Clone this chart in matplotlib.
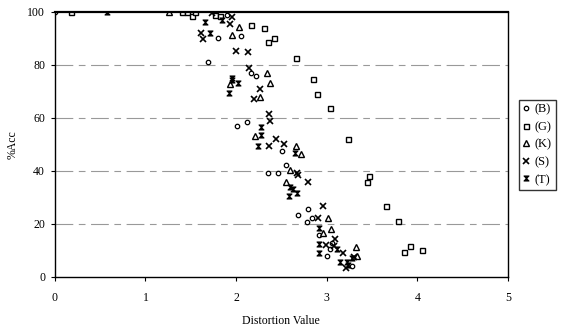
import matplotlib
matplotlib.use("Agg")
import matplotlib.pyplot as plt
from matplotlib.path import Path

plt.rcParams['font.family'] = ['Liberation Serif', 'DejaVu Serif']

# ---- data ----
b_x = [0.00, 1.90, 1.80, 1.69, 2.17, 2.22, 2.06, 2.01, 2.12, 2.51, 2.55, 2.35, 2.46,
       2.79, 2.68, 2.78, 2.84, 2.91, 3.04, 3.00, 3.28, 3.06]
b_y = [100.0, 98.9, 90.2, 81.1, 77.0, 75.8, 90.9, 57.0, 58.5, 47.5, 42.3, 39.2, 39.2,
       25.7, 23.4, 20.8, 22.3, 15.8, 10.6, 7.9, 4.2, 12.8]

g_x = [0.18, 1.40, 1.46, 1.51, 1.55, 1.77, 1.82, 2.17, 2.31, 2.35, 2.42, 2.66, 2.85,
       2.89, 3.04, 3.23, 3.47, 3.44, 3.65, 3.79, 3.92, 3.85, 4.05]
g_y = [100.0, 100.0, 100.0, 98.5, 100.0, 99.0, 98.5, 95.1, 94.0, 88.7, 90.2, 82.6, 74.7,
       69.1, 63.8, 52.1, 38.1, 35.8, 26.8, 21.1, 11.7, 9.4, 10.2]

k_x = [1.26, 2.03, 1.96, 2.34, 1.93, 2.38, 2.26, 2.21, 2.66, 2.72, 2.60, 2.55, 3.01,
       3.05, 2.96, 3.32, 3.34]
k_y = [100.0, 94.3, 91.3, 77.0, 72.8, 73.2, 67.9, 53.2, 49.4, 46.4, 40.4, 35.8, 22.3,
       18.1, 16.6, 11.3, 7.9]

s_x = [1.73, 1.95, 1.93, 1.61, 1.64, 2.00, 2.13, 2.14, 2.26, 2.20, 2.36, 2.38, 2.44,
       2.36, 2.53, 2.67, 2.68, 2.79, 2.96, 2.90, 3.09, 2.99, 3.08, 3.18, 3.21, 3.30]
s_y = [99.6, 98.1, 95.5, 92.1, 89.8, 85.3, 84.9, 78.9, 70.9, 67.2, 61.5, 58.9, 52.1,
       49.4, 50.2, 39.2, 38.5, 35.8, 26.8, 22.3, 14.3, 12.1, 11.7, 9.1, 3.4, 7.5]

t_x = [0.58, 1.66, 1.71, 1.85, 1.95, 1.95, 2.02, 1.92, 2.28, 2.28, 2.24, 2.65, 2.59,
       2.63, 2.67, 2.58, 2.92, 2.91, 3.11, 2.91, 3.15, 3.22, 3.23, 3.28]
t_y = [100.0, 96.2, 92.1, 97.0, 75.1, 74.3, 73.2, 69.4, 56.6, 53.6, 49.4, 46.8, 34.0,
       33.2, 31.7, 30.6, 18.5, 12.5, 10.6, 9.1, 5.7, 5.7, 4.5, 7.2]

labels = ['(B)', '(G)', '(K)', '(S)', '(T)']
x_ticks = [0, 1, 2, 3, 4, 5]
y_ticks = [0, 20, 40, 60, 80, 100]

# hourglass marker for (T)
hourglass = Path([(-1, 1), (1, 1), (-1, -1), (1, -1), (-1, 1)],
                 [Path.MOVETO, Path.LINETO, Path.LINETO, Path.LINETO, Path.CLOSEPOLY])

fig = plt.figure(figsize=(5.65, 3.32), dpi=100)
ax = fig.add_axes([0.097, 0.166, 0.802, 0.798])

kw = dict(linestyle='none', color='black')
ax.plot(b_x, b_y, marker='o', ms=3.2, mfc='white', mew=0.9, label=labels[0], **kw)
ax.plot(g_x, g_y, marker='s', ms=3.6, mfc='white', mew=1.0, label=labels[1], **kw)
ax.plot(k_x, k_y, marker='^', ms=3.8, mfc='white', mew=1.0, label=labels[2], **kw)
ax.plot(s_x, s_y, marker='x', ms=3.8, mew=1.2, label=labels[3], **kw)
ax.plot(t_x, t_y, marker=hourglass, ms=3.6, mfc='black', mew=0.8, label=labels[4], **kw)

ax.set_xlim(0, 5)
ax.set_ylim(0, 100)
ax.set_xticks(x_ticks)
ax.set_yticks(y_ticks)
ax.tick_params(direction='out', length=3, width=0.8, labelsize=8.5, pad=8)
ax.tick_params(axis='y', pad=4)
for v in y_ticks[1:-1]:
    ax.axhline(v, color='#999999', lw=0.8, dashes=(16, 5, 6, 5), zorder=0)
for sp in ax.spines.values():
    sp.set_linewidth(1.0)
ax.spines['top'].set_linewidth(1.6)

ax.set_xlabel('Distortion Value', fontsize=8.5, labelpad=8)
ax.set_ylabel('%Acc', fontsize=8.5, labelpad=6)

leg = fig.legend(loc='upper left', bbox_to_anchor=(0.918, 0.70), frameon=True,
                 fancybox=False, edgecolor='black', fontsize=9, handlelength=0.6,
                 handletextpad=0.4, borderpad=0.3, labelspacing=0.45, borderaxespad=0)
leg.get_frame().set_linewidth(1.0)

fig.savefig('out.png', dpi=100)
